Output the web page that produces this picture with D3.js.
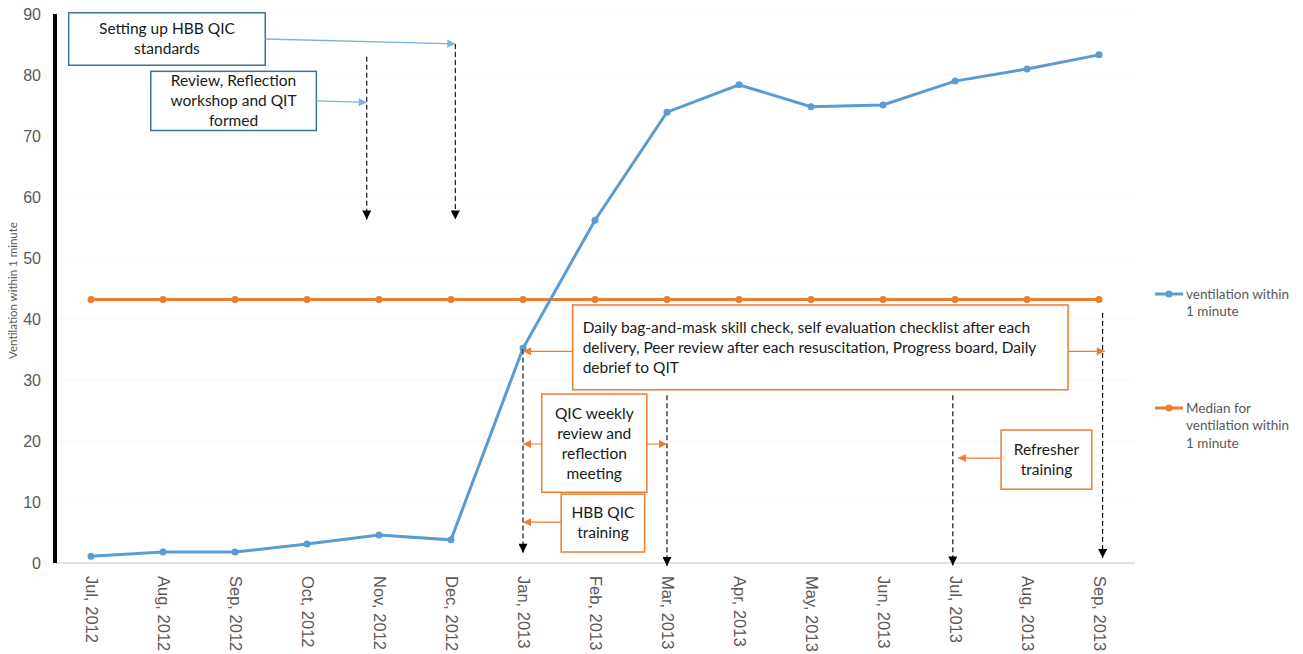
<!DOCTYPE html>
<html>
<head>
<meta charset="utf-8">
<script src="https://cdn.jsdelivr.net/npm/d3@7"></script>
<style>
  body { margin: 0; background: #fff; }
  svg { font-family: Lato, "Open Sans", sans-serif; }
</style>
</head>
<body>
<div id="vis"></div>
<script>
// data
const months = ['Jul, 2012', 'Aug, 2012', 'Sep, 2012', 'Oct, 2012', 'Nov, 2012', 'Dec, 2012',
  'Jan, 2013', 'Feb, 2013', 'Mar, 2013', 'Apr, 2013', 'May, 2013', 'Jun, 2013',
  'Jul, 2013', 'Aug, 2013', 'Sep, 2013'];
const ventilation = [1.1, 1.8, 1.8, 3.1, 4.6, 3.8, 35.2, 56.2, 73.9, 78.4, 74.8, 75.1, 79.0, 81.0, 83.3];
const median = [43.2, 43.2, 43.2, 43.2, 43.2, 43.2, 43.2, 43.2, 43.2, 43.2, 43.2, 43.2, 43.2, 43.2, 43.2];
const yTicks = [0, 10, 20, 30, 40, 50, 60, 70, 80, 90];

// annotation text + anchors (month index, value)
const blueNotes = [
  { lines: ['Setting up HBB QIC', 'standards'], box: [-0.31, 2.42, 90.2, 81.6], target: [5.06, 85.1] },
  { lines: ['Review, Reflection', 'workshop and QIT', 'formed'], box: [0.83, 3.13, 80.6, 70.9], target: [3.83, 75.5] }
];
const dashArrows = [
  { m: 3.83, from: 83.0, to: 56.3 },
  { m: 5.06, from: 85.1, to: 56.3 },
  { m: 6.0, from: 35.0, to: 1.7 },
  { m: 8.0, from: 27.5, to: -0.5 },
  { m: 11.97, from: 27.5, to: -0.4 },
  { m: 14.05, from: 41.0, to: 0.8 }
];
const orangeNotes = [
  { lines: ['Daily bag-and-mask skill check, self evaluation checklist after each',
      'delivery, Peer review after each resuscitation, Progress board, Daily',
      'debrief to QIT'], box: [6.69, 13.57, 42.3, 28.4], align: 'left',
      arrows: [[6.0, 34.7, 'left'], [14.08, 34.7, 'right']] },
  { lines: ['QIC weekly', 'review and', 'reflection', 'meeting'], box: [6.26, 7.72, 27.7, 11.6],
      arrows: [[6.0, 19.5, 'left'], [8.0, 19.5, 'right']] },
  { lines: ['HBB QIC', 'training'], box: [6.53, 7.69, 11.3, 1.8], arrows: [[6.0, 6.7, 'left']] },
  { lines: ['Refresher', 'training'], box: [12.64, 13.9, 21.8, 12.1], arrows: [[12.04, 17.2, 'left']] }
];

const margin = { top: 14, right: 168, bottom: 91, left: 55 };
const W = 1303, H = 654;
const width = W - margin.left - margin.right;
const height = H - margin.top - margin.bottom;

const blue = '#5b9bd5', orange = '#ed7d31';

const svg = d3.select('#vis').append('svg').attr('width', W).attr('height', H);
const defs = svg.append('defs');
function marker(id, color, w, h) {
  defs.append('marker').attr('id', id)
    .attr('viewBox', '0 0 10 10').attr('refX', 10).attr('refY', 5)
    .attr('markerWidth', w).attr('markerHeight', h)
    .attr('markerUnits', 'userSpaceOnUse')
    .attr('orient', 'auto')
    .append('path').attr('d', 'M0,0L10,5L0,10Z').attr('fill', color);
}
marker('ah-black', '#000', 10, 9);
marker('ah-blue', '#7db1e0', 10, 8);
marker('ah-orange', orange, 9, 8);

const plot = svg.append('g').attr('transform', `translate(${margin.left},${margin.top})`);

const x = d3.scaleLinear().domain([-0.5, months.length - 0.5]).range([0, width]);
const y = d3.scaleLinear().domain([0, 90]).range([height, 0]);

// gridlines (very faint)
plot.append('g').selectAll('line').data(yTicks.slice(1)).join('line')
  .attr('x1', 0).attr('x2', width)
  .attr('y1', d => y(d)).attr('y2', d => y(d))
  .attr('stroke', '#f9f9f9').attr('stroke-width', 1);
plot.append('line').attr('x1', 0).attr('x2', width).attr('y1', y(0)).attr('y2', y(0))
  .attr('stroke', '#d9d9d9').attr('stroke-width', 1.3);

// y axis
const yAxis = plot.append('g')
  .call(d3.axisLeft(y).tickValues(yTicks).tickSize(0).tickPadding(14));
yAxis.select('.domain').remove();
yAxis.selectAll('text').attr('fill', '#595959').attr('font-size', 16);
plot.append('line').attr('x1', 0).attr('x2', 0).attr('y1', 0).attr('y2', height)
  .attr('stroke', '#000').attr('stroke-width', 4);

svg.append('text')
  .attr('transform', `translate(17,${margin.top + height / 2 + 2}) rotate(-90)`)
  .attr('text-anchor', 'middle').attr('font-size', 11.5).attr('fill', '#595959')
  .text('Ventilation within 1 minute');

// x axis
const xAxis = plot.append('g').attr('transform', `translate(0,${height})`)
  .call(d3.axisBottom(x).tickValues(d3.range(months.length)).tickFormat(i => months[i]).tickSize(0));
xAxis.select('.domain').remove();
xAxis.selectAll('text')
  .attr('transform', 'rotate(90)')
  .attr('text-anchor', 'start')
  .attr('x', 13).attr('y', 0).attr('dy', '0.35em')
  .attr('fill', '#595959').attr('font-size', 16.5);

// series
const line = d3.line().x((d, i) => x(i)).y(d => y(d));
const series = [{ name: 'median', values: median, color: orange }, { name: 'vent', values: ventilation, color: blue }];
series.forEach(s => {
  plot.append('path').datum(s.values).attr('d', line)
    .attr('fill', 'none').attr('stroke', s.color).attr('stroke-width', 3);
  plot.append('g').selectAll('circle').data(s.values).join('circle')
    .attr('cx', (d, i) => x(i)).attr('cy', d => y(d)).attr('r', 3.5).attr('fill', s.color);
});

// annotations
const notes = plot.append('g').attr('font-size', 15.5).attr('fill', '#000');

function drawBox(n, stroke) {
  const [m0, m1, v0, v1] = n.box;
  const bx = x(m0), bw = x(m1) - x(m0), by = y(v0), bh = y(v1) - y(v0);
  notes.append('rect').attr('x', bx).attr('y', by).attr('width', bw).attr('height', bh)
    .attr('fill', '#fff').attr('stroke', stroke).attr('stroke-width', 1.5);
  const lh = 20;
  const t0 = by + bh / 2 - (n.lines.length - 1) * lh / 2;
  notes.append('g').selectAll('text').data(n.lines).join('text')
    .attr('x', n.align === 'left' ? bx + 10 : bx + bw / 2)
    .attr('y', (d, i) => t0 + i * lh)
    .attr('dy', '0.35em')
    .attr('text-anchor', n.align === 'left' ? 'start' : 'middle')
    .attr('fill', '#1a1a1a')
    .text(d => d);
  return { bx, bw, by, bh };
}

dashArrows.forEach(a => {
  notes.append('line').attr('x1', x(a.m)).attr('x2', x(a.m))
    .attr('y1', y(a.from)).attr('y2', y(a.to))
    .attr('stroke', '#000').attr('stroke-width', 1.1).attr('stroke-dasharray', '5,3')
    .attr('marker-end', 'url(#ah-black)');
});

blueNotes.forEach(n => {
  const b = drawBox(n, '#41719c');
  notes.append('line').attr('x1', b.bx + b.bw).attr('y1', b.by + b.bh / 2)
    .attr('x2', x(n.target[0])).attr('y2', y(n.target[1]))
    .attr('stroke', '#7db1e0').attr('stroke-width', 1.3).attr('marker-end', 'url(#ah-blue)');
});

orangeNotes.forEach(n => {
  const b = drawBox(n, orange);
  n.arrows.forEach(([m, v, side]) => {
    notes.append('line')
      .attr('x1', side === 'left' ? b.bx : b.bx + b.bw).attr('y1', y(v))
      .attr('x2', x(m)).attr('y2', y(v))
      .attr('stroke', orange).attr('stroke-width', 1.1).attr('marker-end', 'url(#ah-orange)');
  });
});

// legend
const legend = svg.append('g').attr('font-size', 13.5).attr('fill', '#595959');
const legendItems = [
  { color: blue, lines: ['ventilation within', '1 minute'], y: 294 },
  { color: orange, lines: ['Median for', 'ventilation within', '1 minute'], y: 408 }
];
legendItems.forEach(l => {
  legend.append('line').attr('x1', 1155).attr('x2', 1183).attr('y1', l.y).attr('y2', l.y)
    .attr('stroke', l.color).attr('stroke-width', 3);
  legend.append('circle').attr('cx', 1169).attr('cy', l.y).attr('r', 3.5).attr('fill', l.color);
  legend.append('g').selectAll('text').data(l.lines).join('text')
    .attr('x', 1186).attr('y', (d, i) => l.y + i * 17.5).attr('dy', '0.35em')
    .attr('fill', '#595959').text(d => d);
});
</script>
</body>
</html>
